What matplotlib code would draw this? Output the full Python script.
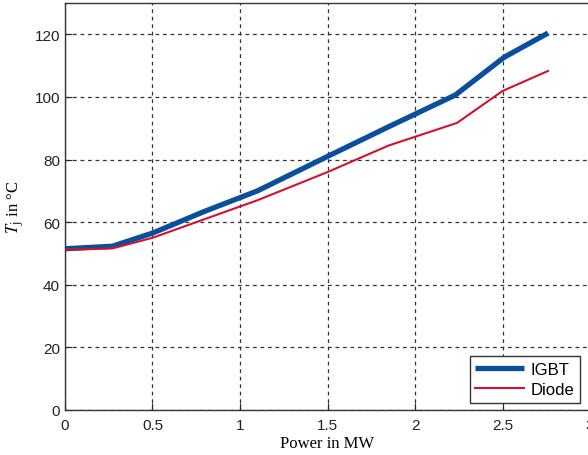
import matplotlib
matplotlib.use("Agg")
import matplotlib.pyplot as plt

# junction temperature vs. power
p_igbt = [0.0, 0.27, 0.5, 0.8, 1.1, 1.5, 1.85, 2.23, 2.51, 2.76]
t_igbt = [51.5, 52.3, 56.5, 63.5, 70.0, 81.0, 90.5, 100.6, 112.7, 120.4]
p_diode = [0.0, 0.27, 0.5, 0.8, 1.1, 1.5, 1.85, 2.24, 2.5, 2.76]
t_diode = [51.2, 51.6, 55.0, 61.0, 67.0, 76.0, 84.5, 91.7, 101.9, 108.3]

xticks = [0, 0.5, 1, 1.5, 2, 2.5, 3]
yticks = [0, 20, 40, 60, 80, 100, 120]

plt.rcParams['font.family'] = ['Liberation Sans', 'DejaVu Sans']
plt.rcParams['mathtext.fontset'] = 'stix'

fig = plt.figure(figsize=(5.88, 4.56), dpi=100)
# right part of the axes runs past the figure edge, as in the original crop
ax = fig.add_axes([0.1105, 0.0987, 0.893, 0.8925])

ax.plot(p_igbt, t_igbt, color='#0a4f9e', lw=3.8, label='IGBT', solid_capstyle='butt')
ax.plot(p_diode, t_diode, color='#d2122e', lw=1.5, label='Diode')

ax.set_xlim(0, 3)
ax.set_ylim(0, 130)
ax.set_xticks(xticks)
ax.set_xticklabels(['0', '0.5', '1', '1.5', '2', '2.5', '3'])
ax.set_yticks(yticks)
ax.tick_params(direction='in', length=5, labelsize=11, colors='#222222', labelcolor='#222222')
ax.tick_params(axis='x', pad=6)
ax.grid(True, color='#333333', linestyle=(0, (3, 3)), lw=0.9)
for s in ax.spines.values():
    s.set_color('#333333')
    s.set_linewidth(1.0)

ax.set_xlabel('Power in MW', family='Liberation Serif', fontsize=12, labelpad=2)
ax.set_ylabel(r'$T_\mathrm{j}$ in °C', family='Liberation Serif', fontsize=12, labelpad=6)

leg = ax.legend(loc='lower right', bbox_to_anchor=(580 / 588, (456 - 404) / 456),
                bbox_transform=fig.transFigure, fontsize=12, fancybox=False,
                framealpha=1, edgecolor='#333333', borderaxespad=0,
                handlelength=2.9, handletextpad=0.4, borderpad=0.35,
                labelspacing=0.3)
leg.get_frame().set_linewidth(1.0)

fig.savefig('out.png', dpi=100)
